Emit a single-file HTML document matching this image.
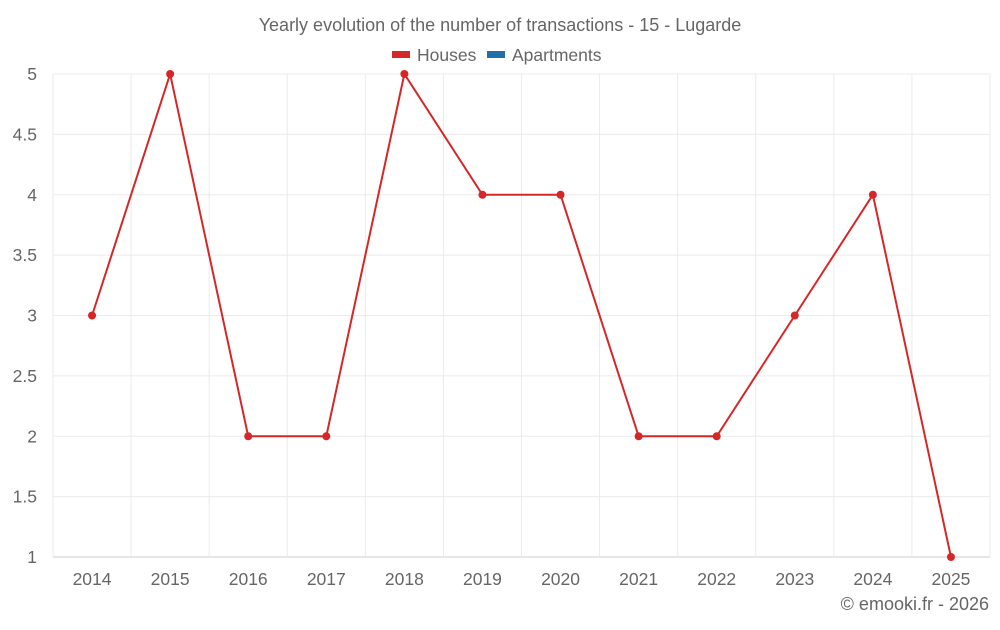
<!DOCTYPE html>
<html><head><meta charset="utf-8"><style>
body{margin:0;background:#fff;font-family:"Liberation Sans",sans-serif;}
svg text{font-family:"Liberation Sans",sans-serif;fill:#666;}
</style></head><body>
<svg id="chart" width="1000" height="625" xmlns="http://www.w3.org/2000/svg">
<text x="500" y="31" text-anchor="middle" font-size="18">Yearly evolution of the number of transactions - 15 - Lugarde</text>
<g>
<rect x="392" y="51" width="18" height="7" fill="#d62728"/>
<text x="417" y="61" font-size="17.5">Houses</text>
<rect x="487" y="51" width="18" height="7" fill="#1f6fa8"/>
<text x="512" y="61" font-size="17.5">Apartments</text>
</g>
<g id="grid"></g>
<g id="axes"></g>
<g id="series"></g>
<text x="989" y="610" text-anchor="end" font-size="18">© emooki.fr - 2026</text>
</svg>
<script>
const categories=["2014","2015","2016","2017","2018","2019","2020","2021","2022","2023","2024","2025"];
const houses=[3,5,2,2,5,4,4,2,2,3,4,1];
const yTicks=[1,1.5,2,2.5,3,3.5,4,4.5,5];
const NS="http://www.w3.org/2000/svg";
const L=53,R=990,T=74,B=557,yMin=1,yMax=5;
const bw=(R-L)/categories.length;
const x=i=>L+bw*(i+0.5);
const y=v=>B-(v-yMin)/(yMax-yMin)*(B-T);
function mk(tag,attrs,parent){const e=document.createElementNS(NS,tag);for(const k in attrs)e.setAttribute(k,attrs[k]);parent.appendChild(e);return e;}
const grid=document.getElementById('grid'),axes=document.getElementById('axes'),series=document.getElementById('series');
yTicks.forEach(t=>{
 const l=mk('line',{x1:L,x2:R,y1:y(t),y2:y(t),stroke:t===yMin?'#ccc':'#ebebeb'},grid);
 
 
 const tx=mk('text',{x:37,y:y(t)+6,'text-anchor':'end','font-size':'17.5'},axes);
 tx.textContent=t;
 
 
});
for(let i=0;i<=categories.length;i++){
 const l=mk('line',{x1:L+bw*i,x2:L+bw*i,y1:T,y2:B,stroke:'#ebebeb'},grid);
 
 
}
categories.forEach((c,i)=>{
 const tx=mk('text',{x:x(i),y:585,'text-anchor':'middle','font-size':'17.5'},axes);
 tx.textContent=c;
 
 
});
const p=mk('polyline',{points:houses.map((v,i)=>x(i)+','+y(v)).join(' '),fill:'none',stroke:'#d62728','stroke-width':2},series);


houses.forEach((v,i)=>{
 const c=mk('circle',{cx:x(i),cy:y(v),r:4,fill:'#d62728'},series);
 
 
});
</script>
</body></html>
